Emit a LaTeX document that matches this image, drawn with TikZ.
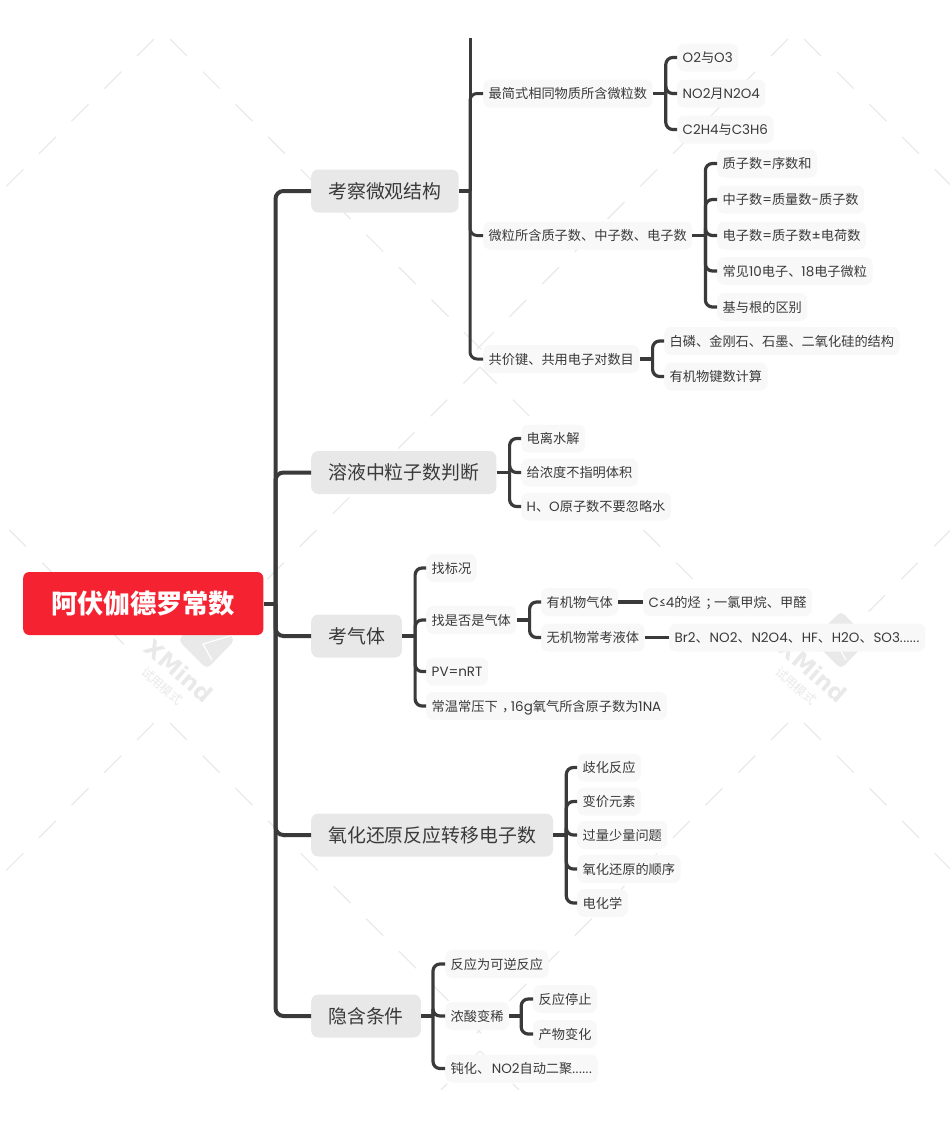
\documentclass[tikz,border=0pt]{standalone}
\usepackage{fontspec}
\setmainfont{Noto Sans CJK SC}
\newfontfamily\latfont[Scale=1.02]{Poppins}
\newfontfamily\wmfont{DejaVu Sans}
\newcommand{\lat}[1]{{\latfont #1}}
\newcommand{\sixdots}{{\latfont .\kern.5pt.\kern.5pt.\kern.5pt.\kern.5pt.\kern.5pt.\kern.5pt}}
\newcommand{\midpunct}[1]{\kern4.5pt#1\kern-4.5pt}
\definecolor{inkgray}{HTML}{3A3A3A}
\definecolor{topicgray}{HTML}{E8E8E8}
\definecolor{leafgray}{HTML}{F8F8F8}
\definecolor{wmgray}{HTML}{E9E9E9}
\definecolor{rootred}{HTML}{F52231}
\tikzset{
    central/.style={anchor=west, fill=rootred, text=white, rounded corners=6pt, inner xsep=28pt, inner ysep=0pt,
        minimum height=63pt, text height=23pt, text depth=3pt, font=\fontsize{26.3}{30}\selectfont\bfseries},
    topic/.style={anchor=west, fill=topicgray, text=inkgray, rounded corners=7pt, inner xsep=17pt, inner ysep=0pt,
        minimum height=43pt, text height=16pt, text depth=2pt, font=\fontsize{18.9}{22}\selectfont},
    leaf/.style={anchor=west, fill=leafgray, text=inkgray, rounded corners=7pt, inner xsep=5.5pt, inner ysep=0pt,
        minimum height=28pt, text height=12pt, text depth=1.5pt, font=\fontsize{13.2}{16}\selectfont},
    mainbar/.style={draw=inkgray, line width=4pt, rounded corners=8pt},
    bar/.style={draw=inkgray, line width=3.2pt, rounded corners=7pt},
    wmark/.style={draw=wmgray, line width=1.2pt}
}
\begin{document}
\begin{tikzpicture}[x=1pt, y=-1pt]
    \useasboundingbox (0,0) rectangle (950,1130);

    % Watermark
    \begin{scope}
        \clip (0,38) rectangle (950,1089);
        \foreach \i in {-1,0,1} \foreach \j in {0,1} {
            \begin{scope}[shift={(634*\i,684*\j)}]
                \foreach \k in {0,...,9} {
                    \draw[wmark] (170+\k*32.7,39+\k*32.6) -- ++(17,17);
                    \draw[wmark] (154-\k*32.7,39+\k*32.6) -- ++(-17,17);
                }
                \foreach \k in {0,...,8} {
                    \draw[wmark] (480+\k*32.7,367+\k*32.6) -- ++(16.5,16.5);
                    \draw[wmark] (480-\k*32.7,367+\k*32.6) -- ++(-16.5,16.5);
                }
            \end{scope}
        }
        \foreach \dx in {0,634} {
            \begin{scope}[xshift=\dx pt]
                \fill[wmgray, rounded corners=5pt] (207,611) -- (235,640) -- (207,669) -- (178,640) -- cycle;
                \draw[white, line width=1.2pt] (233,635) -- (203,644) -- (212,660);
                \node[rotate=-41, text=wmgray, font=\wmfont\fontsize{23}{26}\selectfont\bfseries] (xmind\dx) at (179,671) {XMind};
                \node[rotate=-41, text=wmgray, font=\fontsize{12.5}{14}\selectfont] (trial\dx) at (162,686) {试用模式};
            \end{scope}
        }
    \end{scope}

    % Root
    \node[central] (root) at (23,603.5) {阿伏伽德罗常数};

    % Main topics
    \node[topic] (micro) at (311,191) {考察微观结构};
    \node[topic] (solution) at (311,472.5) {溶液中粒子数判断};
    \node[topic] (gas) at (311,636) {考气体};
    \node[topic] (redox) at (311,835) {氧化还原反应转移电子数};
    \node[topic] (hidden) at (311,1016) {隐含条件};

    % Micro structure
    \node[leaf] (simplest) at (483,93.5) {最简式相同物质所含微粒数};
    \node[leaf] (ozone) at (677,57.5) {\lat{O2}与\lat{O3}};
    \node[leaf] (nitro) at (677,93.5) {\lat{NO2}月\lat{N2O4}};
    \node[leaf] (ethene) at (677,129.5) {\lat{C2H4}与\lat{C3H6}};
    \node[leaf] (particle) at (483,235.5) {微粒所含质子数、中子数、电子数};
    \node[leaf] (proton) at (717,163.5) {质子数\lat{=}序数和};
    \node[leaf] (neutron) at (717,199.5) {中子数\lat{=}质量数\lat{-}质子数};
    \node[leaf] (electron) at (717,235.5) {电子数\lat{=}质子数\lat{±}电荷数};
    \node[leaf] (common) at (717,271) {常见\lat{10}电子、\lat{18}电子微粒};
    \node[leaf] (radical) at (717,307) {基与根的区别};
    \node[leaf] (covalent) at (483,359) {共价键、共用电子对数目};
    \node[leaf] (crystal) at (664,341) {白磷、金刚石、石墨、二氧化硅的结构};
    \node[leaf] (organic) at (664,376.5) {有机物键数计算};

    % Solution
    \node[leaf] (ionize) at (521,438.5) {电离水解};
    \node[leaf] (volume) at (521,472.5) {给浓度不指明体积};
    \node[leaf] (water) at (521,506.5) {\lat{H}、\lat{O}原子数不要忽略水};

    % Gas
    \node[leaf] (stdcond) at (426,568) {找标况};
    \node[leaf] (isgas) at (426,620) {找是否是气体};
    \node[leaf] (ideal) at (426,671.5) {\lat{PV=nRT}};
    \node[leaf] (normal) at (426,706) {常温常压下\midpunct{，}\lat{16g}氧气所含原子数为\lat{1NA}};
    \node[leaf] (orggas) at (541,602) {有机物气体};
    \node[leaf] (inorgliq) at (541,637.5) {无机物常考液体};
    \node[leaf] (orglist) at (643,602) {\lat{C≤4}的烃\midpunct{；}一氯甲烷、甲醛};
    \node[leaf] (liqlist) at (669,637.5) {\lat{Br2}、\kern.8pt\lat{NO2}、\kern.8pt\lat{N2O4}、\kern.8pt\lat{HF}、\kern.8pt\lat{H2O}、\kern.8pt\lat{SO3}\sixdots};

    % Redox
    \node[leaf] (dispro) at (577,767.5) {歧化反应};
    \node[leaf] (valence) at (577,801.5) {变价元素};
    \node[leaf] (excess) at (577,835) {过量少量问题};
    \node[leaf] (order) at (577,869) {氧化还原的顺序};
    \node[leaf] (electro) at (577,903) {电化学};

    % Hidden conditions
    \node[leaf] (revers) at (445,964) {反应为可逆反应};
    \node[leaf] (dilute) at (445,1016) {浓酸变稀};
    \node[leaf] (stop) at (533,999) {反应停止};
    \node[leaf] (product) at (533,1034) {产物变化};
    \node[leaf] (passive) at (445,1068.5) {钝化、\kern1.5pt\lat{NO2}自动二聚\sixdots};

    % Connectors
    \draw[mainbar] (root.east) -- ++(12,0) coordinate (rootfork);
    \foreach \kid in {micro,solution,gas,redox,hidden}
        \draw[mainbar] (rootfork) |- (\kid.west);

    \coordinate (cuttop) at (470,38);
    \draw[bar] (micro.east) -- (cuttop |- micro.east) coordinate (microfork);
    \draw[bar, line width=3pt] (microfork) -- (cuttop);
    \foreach \kid in {simplest,particle,covalent}
        \draw[bar, line width=3pt] (microfork) |- (\kid.west);

    \draw[bar] (simplest.east) -- ++(13,0) coordinate (simplestfork);
    \foreach \kid in {ozone,nitro,ethene}
        \draw[bar] (simplestfork) |- (\kid.west);
    \draw[bar] (particle.east) -- ++(13,0) coordinate (particlefork);
    \foreach \kid in {proton,neutron,electron,common,radical}
        \draw[bar] (particlefork) |- (\kid.west);
    \draw[bar] (covalent.east) -- ++(13,0) coordinate (covalentfork);
    \foreach \kid in {crystal,organic}
        \draw[bar] (covalentfork) |- (\kid.west);

    \draw[bar] (solution.east) -- ++(13,0) coordinate (solutionfork);
    \foreach \kid in {ionize,volume,water}
        \draw[bar] (solutionfork) |- (\kid.west);

    \draw[bar] (gas.east) -- ++(13,0) coordinate (gasfork);
    \foreach \kid in {stdcond,isgas,ideal,normal}
        \draw[bar] (gasfork) |- (\kid.west);
    \draw[bar] (isgas.east) -- ++(13,0) coordinate (isgasfork);
    \foreach \kid in {orggas,inorgliq}
        \draw[bar] (isgasfork) |- (\kid.west);
    \draw[bar] (orggas) -- (orglist);
    \draw[bar] (inorgliq) -- (liqlist);

    \draw[bar] (redox.east) -- ++(13,0) coordinate (redoxfork);
    \foreach \kid in {dispro,valence,excess,order,electro}
        \draw[bar] (redoxfork) |- (\kid.west);

    \draw[bar] (hidden.east) -- ++(12,0) coordinate (hiddenfork);
    \foreach \kid in {revers,dilute,passive}
        \draw[bar] (hiddenfork) |- (\kid.west);
    \draw[bar] (dilute.east) -- ++(12,0) coordinate (dilutefork);
    \foreach \kid in {stop,product}
        \draw[bar] (dilutefork) |- (\kid.west);
\end{tikzpicture}
\end{document}
